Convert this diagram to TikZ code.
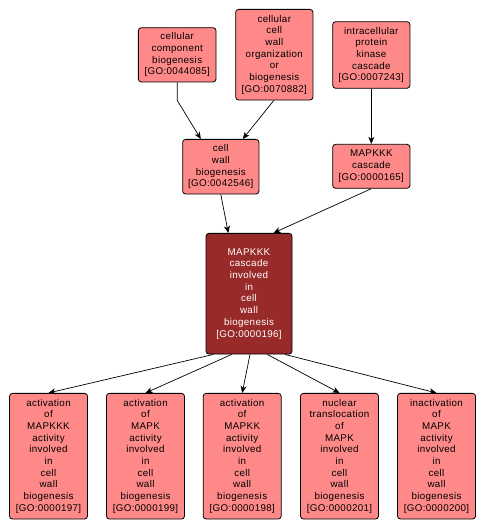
\documentclass[tikz,border=0pt]{standalone}
\usepackage{fontspec}
\setmainfont[LetterSpace=3.5]{Liberation Sans}
\usetikzlibrary{arrows.meta}
\definecolor{lightbox}{RGB}{255,137,137}
\definecolor{darkbox}{RGB}{153,42,42}
\tikzset{
  goterm/.style={draw=black, line width=0.8pt, rounded corners=3pt, fill=lightbox,
    align=center, inner sep=0pt, font=\fontsize{9.8}{11.7}\selectfont, text=black},
  mainterm/.style={goterm, fill=darkbox, text=white},
  arr/.style={draw=black, line width=0.7pt, -{Stealth[length=7pt,width=6pt,inset=2pt]}}
}
\begin{document}
\begin{tikzpicture}[x=1pt,y=1pt]
\useasboundingbox (0,0) rectangle (485,-531);
\node[goterm, minimum width=77.7pt, minimum height=54.3pt] (ccb) at (177.2,-54.8)
  {cellular\\component\\biogenesis\\{[GO:0044085]}};
\node[goterm, minimum width=77.3pt, minimum height=90.7pt] (ccwo) at (274.3,-54.7)
  {cellular\\cell\\wall\\organization\\or\\biogenesis\\{[GO:0070882]}};
\node[goterm, minimum width=77.3pt, minimum height=66.6pt] (ipkc) at (371.3,-55)
  {intracellular\\protein\\kinase\\cascade\\{[GO:0007243]}};
\node[goterm, minimum width=76.3pt, minimum height=54.7pt] (cwb) at (220.8,-166.7)
  {cell\\wall\\biogenesis\\{[GO:0042546]}};
\node[goterm, minimum width=77.3pt, minimum height=44pt] (mc) at (371.3,-166.3)
  {MAPKKK\\cascade\\{[GO:0000165]}};
\node[mainterm, minimum width=86pt, minimum height=120.7pt] (main) at (249,-293.7)
  {MAPKKK\\cascade\\involved\\in\\cell\\wall\\biogenesis\\{[GO:0000196]}};
\node[goterm, minimum width=78pt, minimum height=125.7pt] (c1) at (48.5,-456.2)
  {activation\\of\\MAPKKK\\activity\\involved\\in\\cell\\wall\\biogenesis\\{[GO:0000197]}};
\node[goterm, minimum width=78pt, minimum height=125.7pt] (c2) at (145.5,-456.2)
  {activation\\of\\MAPK\\activity\\involved\\in\\cell\\wall\\biogenesis\\{[GO:0000199]}};
\node[goterm, minimum width=78pt, minimum height=125.7pt] (c3) at (242.2,-456.2)
  {activation\\of\\MAPKK\\activity\\involved\\in\\cell\\wall\\biogenesis\\{[GO:0000198]}};
\node[goterm, minimum width=78pt, minimum height=125.7pt] (c4) at (339.5,-456.2)
  {nuclear\\translocation\\of\\MAPK\\involved\\in\\cell\\wall\\biogenesis\\{[GO:0000201]}};
\node[goterm, minimum width=78pt, minimum height=125.7pt] (c5) at (436.5,-456.2)
  {inactivation\\of\\MAPK\\activity\\involved\\in\\cell\\wall\\biogenesis\\{[GO:0000200]}};
\draw[arr] (ccb.south) -- ++(0,-18) -- ([xshift=-20pt]cwb.north);
\draw[arr] ([xshift=-0.5pt]ccwo.south) -- ([xshift=22pt]cwb.north);
\draw[arr] (ipkc.south) -- (mc.north);
\draw[arr] (cwb.south) -- ([xshift=-20.7pt]main.north);
\draw[arr] (mc.south) -- ([xshift=24.5pt]main.north);
\draw[arr] ([xshift=-35.7pt]main.south) -- (c1.north);
\draw[arr] ([xshift=-17.3pt]main.south) -- (c2.north);
\draw[arr] ([xshift=1pt]main.south) -- (c3.north);
\draw[arr] ([xshift=18.3pt]main.south) -- (c4.north);
\draw[arr] ([xshift=36pt]main.south) -- (c5.north);
\end{tikzpicture}
\end{document}
